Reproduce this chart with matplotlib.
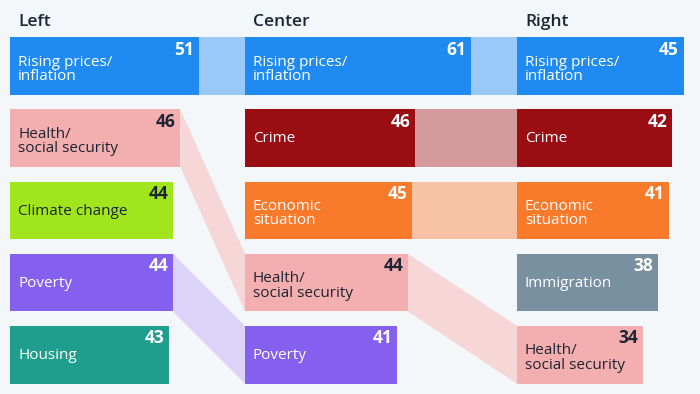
import matplotlib
matplotlib.use("Agg")
import matplotlib.pyplot as plt

plt.rcParams['font.family'] = ['Open Sans', 'DejaVu Sans']

columns = ["Left", "Center", "Right"]
labels = {
    "Left": ["Rising prices/\ninflation", "Health/\nsocial security", "Climate change", "Poverty", "Housing"],
    "Center": ["Rising prices/\ninflation", "Crime", "Economic\nsituation", "Health/\nsocial security", "Poverty"],
    "Right": ["Rising prices/\ninflation", "Crime", "Economic\nsituation", "Immigration", "Health/\nsocial security"],
}
values = {
    "Left": [51, 46, 44, 44, 43],
    "Center": [61, 46, 45, 44, 41],
    "Right": [45, 42, 41, 38, 34],
}

colors = {
    "Rising prices/\ninflation": ("#1f8bf2", "#98c9f7", "white"),
    "Health/\nsocial security": ("#f3aeaf", "#f7d6d7", "#1d2433"),
    "Climate change": ("#a1e61c", None, "#1d2433"),
    "Poverty": ("#8560ef", "#ddd2f8", "white"),
    "Housing": ("#1f9e8e", None, "white"),
    "Crime": ("#990d13", "#d49a9c", "white"),
    "Economic\nsituation": ("#f97a2a", "#f8c3a5", "white"),
    "Immigration": ("#7990a0", None, "white"),
}

# layout (pixel-based figure, value units on x)
W, H = 700, 394
S = 3.7                      # px per value unit
col_px = [10, 245, 517]      # column left edges in px
col_x = [p / S for p in col_px]
row_c0, row_pitch = 66.0, 72.2
bar_h = 0.80

fig = plt.figure(figsize=(7.0, 3.94), dpi=100)
fig.patch.set_facecolor("#f4f7fa")
ax = fig.add_axes([0, 0, 1, 1])
ax.set_facecolor("#f4f7fa")
ax.set_xlim(0, W / S)
ax.set_ylim((H - row_c0) / row_pitch, (0 - row_c0) / row_pitch)
ax.axis("off")

# connecting bands
for ci in range(len(columns) - 1):
    a, b = columns[ci], columns[ci + 1]
    for i, lab in enumerate(labels[a]):
        if lab in labels[b]:
            j = labels[b].index(lab)
            band = colors[lab][1]
            x0 = col_x[ci] + values[a][i]
            x1 = col_x[ci + 1]
            xs = [x0, x1, x1, x0]
            ys = [i - bar_h / 2, j - bar_h / 2, j + bar_h / 2, i + bar_h / 2]
            ax.fill(xs, ys, color=band, lw=0, zorder=1)

# boxes
for ci, col in enumerate(columns):
    rows = list(range(len(values[col])))
    cols = [colors[l][0] for l in labels[col]]
    ax.barh(rows, values[col], left=col_x[ci], height=bar_h, color=cols, zorder=2)
    ax.text(col_x[ci] + 8.5 / S, -0.555, col, fontsize=12.5, fontweight="semibold",
            color="#1d2433", va="baseline", ha="left", zorder=3)
    for i, (lab, v) in enumerate(zip(labels[col], values[col])):
        tc = colors[lab][2]
        dy = 0.045 if "\n" in lab else 0.01
        ax.text(col_x[ci] + 8 / S, i + dy, lab, fontsize=11, color=tc,
                va="center", ha="left", linespacing=0.95, zorder=3)
        ax.text(col_x[ci] + v - 4.5 / S, i - bar_h / 2 + 3.5 / row_pitch, str(v),
                fontsize=12.5, fontweight="bold", color=tc, va="top", ha="right", zorder=3)

fig.savefig("out.png", dpi=100, facecolor=fig.get_facecolor())
